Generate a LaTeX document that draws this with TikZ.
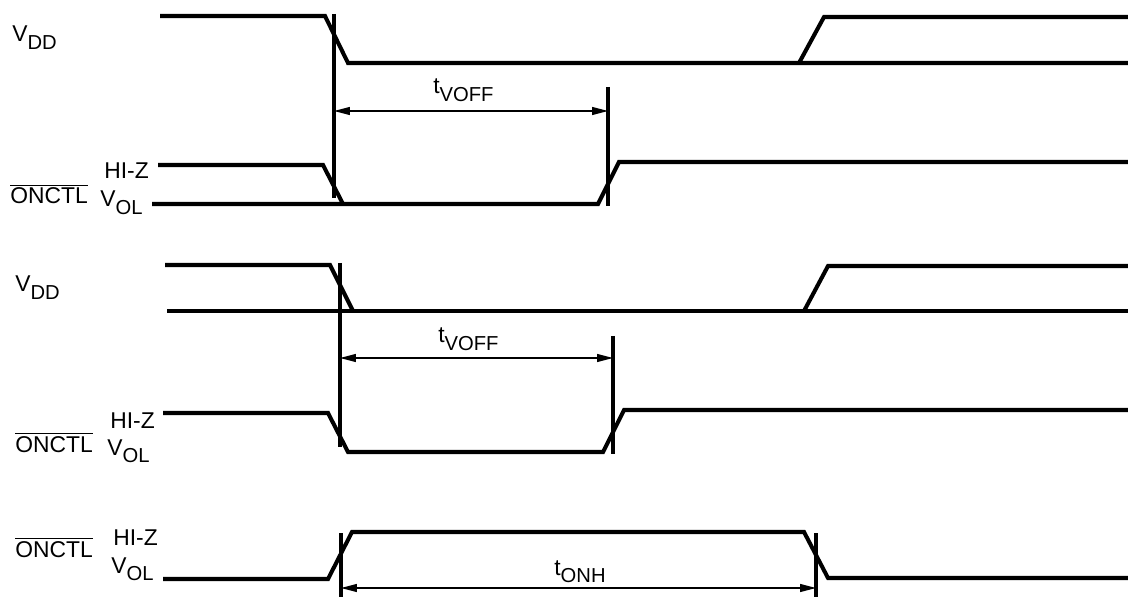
\documentclass[tikz,border=0pt]{standalone}
\usepackage{fontspec}
\setmainfont{Liberation Sans}
\usetikzlibrary{arrows.meta}

\newcommand{\sigsub}[2]{#1\raisebox{-4pt}{\fontsize{11.5}{13}\selectfont #2}}

\begin{document}
\begin{tikzpicture}[
    x=0.02cm, y=-0.02cm,
    wave/.style={line width=2.3pt, line join=miter},
    tick/.style={line width=2.3pt},
    dim/.style={{Triangle[length=9pt, width=4.5pt]}-{Triangle[length=9pt, width=4.5pt]}, line width=0.7pt},
    lbl/.style={anchor=base west, inner sep=0pt, font=\fontsize{13}{15}\selectfont},
]
\useasboundingbox (0,0) rectangle (1128,597);

% Section 1: VDD and ONCTL
\node[lbl] (vdda) at (12,42) {\sigsub{V}{DD}};
\node[lbl] (hiza) at (104,179) {HI-Z};
\node[lbl] (onctla) at (10,204) {$\overline{\mbox{ONCTL}}$};
\node[lbl] (vola) at (100,207) {\sigsub{V}{OL}};
\draw[wave] (160,16) -- (325,16) -- (348,63) -- (1128,63);
\draw[wave] (799,63) -- (824,17) -- (1128,17);
\draw[wave] (158,165) -- (323,165) -- (343,204);
\draw[wave] (152,204) -- (598,204) -- (619,162) -- (1128,162);
\coordinate (m1top) at (334,14);
\coordinate (m1bot) at (334,198);
\coordinate (m2top) at (608,87);
\coordinate (m2bot) at (608,206);
\draw[tick] (m1top) -- (m1bot);
\draw[tick] (m2top) -- (m2bot);
\coordinate (d1l) at (334,111);
\coordinate (d1r) at (608,111);
\draw[dim] (d1l) -- (d1r);
\node[lbl] (tvoffa) at (433,94) {\sigsub{t}{VOFF}};

% Section 2: VDD and ONCTL
\node[lbl] (vddb) at (15,292) {\sigsub{V}{DD}};
\node[lbl] (hizb) at (110,428) {HI-Z};
\node[lbl] (onctlb) at (15,452) {$\overline{\mbox{ONCTL}}$};
\node[lbl] (volb) at (107,455) {\sigsub{V}{OL}};
\draw[wave] (165,265) -- (330,265) -- (353,311);
\draw[wave] (167,311) -- (1128,311);
\draw[wave] (804,311) -- (828,266) -- (1128,266);
\draw[wave] (163,413) -- (328,413) -- (348,452) -- (603,452) -- (624,410) -- (1128,410);
\coordinate (m3top) at (340,263);
\coordinate (m3bot) at (340,447);
\coordinate (m4top) at (613,336);
\coordinate (m4bot) at (613,454);
\draw[tick] (m3top) -- (m3bot);
\draw[tick] (m4top) -- (m4bot);
\coordinate (d2l) at (340,358);
\coordinate (d2r) at (613,358);
\draw[dim] (d2l) -- (d2r);
\node[lbl] (tvoffb) at (438,343) {\sigsub{t}{VOFF}};

% Section 3: ONCTL high pulse
\node[lbl] (onctlc) at (15,557) {$\overline{\mbox{ONCTL}}$};
\node[lbl] (hizc) at (113,545) {HI-Z};
\node[lbl] (volc) at (111,573) {\sigsub{V}{OL}};
\draw[wave] (163,579) -- (328,579) -- (352,532) -- (804,532) -- (828,578) -- (1128,578);
\coordinate (m5top) at (341,533);
\coordinate (m5bot) at (341,597);
\coordinate (m6top) at (816,533);
\coordinate (m6bot) at (816,597);
\draw[tick] (m5top) -- (m5bot);
\draw[tick] (m6top) -- (m6bot);
\coordinate (d3l) at (341,588);
\coordinate (d3r) at (816,588);
\draw[dim] (d3l) -- (d3r);
\node[lbl] (tonh) at (554,575) {\sigsub{t}{ONH}};

\end{tikzpicture}
\end{document}
